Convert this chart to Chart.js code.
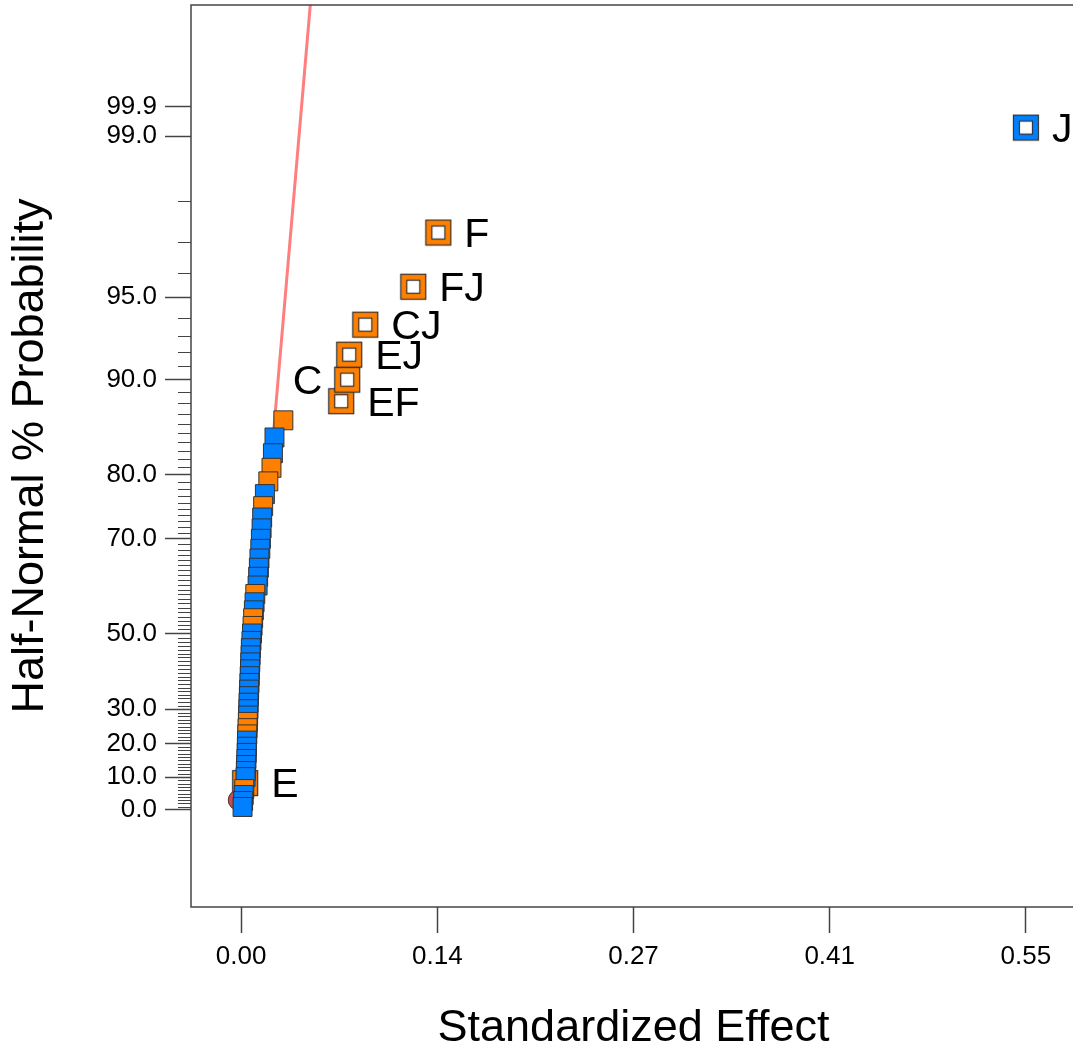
<!DOCTYPE html>
<html>
<head>
<meta charset="utf-8">
<title>Half-Normal Plot</title>
<script src="https://cdn.jsdelivr.net/npm/chart.js@4.4.1/dist/chart.umd.min.js"></script>
<style>
    html, body { margin: 0; padding: 0; background: #fff; overflow: hidden; }
    #wrap { width: 1073px; height: 1051px; overflow: hidden; }
</style>
</head>
<body>
<div id="wrap"><canvas id="halfNormal" width="1086" height="1051"></canvas></div>
<script>
// |effect| for every term, smallest to largest
let effects = [
    0.0010, 0.0014, 0.0018, 0.0022, 0.0028, 0.0031, 0.0033, 0.0035, 0.0037, 0.0039,
    0.0040, 0.0041, 0.0043, 0.0045, 0.0047, 0.0049, 0.0051, 0.0052, 0.0054, 0.0056,
    0.0058, 0.0060, 0.0062, 0.0064, 0.0066, 0.0068, 0.0072, 0.0076, 0.0080, 0.0084,
    0.0089, 0.0094, 0.0099, 0.0115, 0.0119, 0.0124, 0.0128, 0.0134, 0.0138, 0.0143,
    0.0147, 0.0154, 0.0166, 0.0190, 0.0212, 0.0222, 0.0233, 0.0295, 0.0699, 0.0741,
    0.0755, 0.0867, 0.1202, 0.1377, 0.5480
];
// half-normal % probability of each term
let probs = [
    0.91, 2.73, 4.55, 6.36, 8.18, 10.00, 11.82, 13.64, 15.45, 17.27,
    19.09, 20.91, 22.73, 24.55, 26.36, 28.18, 30.00, 31.82, 33.64, 35.45,
    37.27, 39.09, 40.91, 42.73, 44.55, 46.36, 48.18, 50.00, 51.82, 53.64,
    55.45, 57.27, 59.09, 60.91, 62.73, 64.55, 66.36, 68.18, 70.00, 71.82,
    73.64, 75.45, 77.27, 79.09, 80.91, 82.73, 84.55, 86.36, 88.18, 90.00,
    91.82, 93.64, 95.45, 97.27, 99.09
];
// sign of the effect: + orange, - blue
let signs = [
    '-', '-', '-', '+', '+', '-', '-', '-', '-', '-',
    '-', '-', '+', '+', '+', '-', '-', '-', '-', '-',
    '-', '-', '-', '-', '-', '-', '-', '-', '+', '+',
    '-', '-', '+', '-', '-', '-', '-', '-', '-', '-',
    '-', '+', '-', '+', '+', '-', '-', '+', '+', '+',
    '+', '+', '+', '+', '-'
];
// selected model terms
let terms = [
    '', '', '', '', 'E', '', '', '', '', '',
    '', '', '', '', '', '', '', '', '', '',
    '', '', '', '', '', '', '', '', '', '',
    '', '', '', '', '', '', '', '', '', '',
    '', '', '', '', '', '', '', '', 'EF', 'C',
    'EJ', 'CJ', 'FJ', 'F', 'J'
];

// error estimate marker
let errorX = [-0.002];
let errorProb = [3.0];

// line through the small effects
let fitX = [0, 0.0485];
let fitProb = [0, 99.8];

let xTicks = [0, 0.137, 0.274, 0.411, 0.548];
let probTicks = [0, 10, 20, 30, 50, 70, 80, 90, 95, 99, 99.28];
let probTickLabels = ['0.0', '10.0', '20.0', '30.0', '50.0', '70.0', '80.0', '90.0', '95.0', '99.0', '99.9'];

const orange = '#ff8000';
const blue = '#0080ff';
const edge = '#333333';
const axisColor = '#444444';
const fontName = '"Liberation Sans", Arial, sans-serif';

// inverse standard normal cdf (Acklam)
function normInv(p) {
    const a = [-3.969683028665376e+01, 2.209460984245205e+02, -2.759285104469687e+02, 1.383577518672690e+02, -3.066479806614716e+01, 2.506628277459239e+00];
    const b = [-5.447609879822406e+01, 1.615858368580409e+02, -1.556989798598866e+02, 6.680131188771972e+01, -1.328068155288572e+01];
    const c = [-7.784894002430293e-03, -3.223964580411365e-01, -2.400758277161838e+00, -2.549732539343734e+00, 4.374664141464968e+00, 2.938163982698783e+00];
    const d = [7.784695709041462e-03, 3.224671290700398e-01, 2.445134137142996e+00, 3.754408661907416e+00];
    let q, r;
    if (p < 0.02425) {
        q = Math.sqrt(-2 * Math.log(p));
        return (((((c[0]*q+c[1])*q+c[2])*q+c[3])*q+c[4])*q+c[5]) / ((((d[0]*q+d[1])*q+d[2])*q+d[3])*q+1);
    }
    if (p <= 1 - 0.02425) {
        q = p - 0.5; r = q * q;
        return (((((a[0]*r+a[1])*r+a[2])*r+a[3])*r+a[4])*r+a[5])*q / (((((b[0]*r+b[1])*r+b[2])*r+b[3])*r+b[4])*r+1);
    }
    q = Math.sqrt(-2 * Math.log(1 - p));
    return -(((((c[0]*q+c[1])*q+c[2])*q+c[3])*q+c[4])*q+c[5]) / ((((d[0]*q+d[1])*q+d[2])*q+d[3])*q+1);
}

// % probability -> position on the half-normal axis
function hn(pct) {
    return pct <= 0 ? 0 : normInv(0.5 + pct / 200);
}

function hollowSquare(fill) {
    let cv = document.createElement('canvas');
    cv.width = 28; cv.height = 28;
    let g = cv.getContext('2d');
    g.fillStyle = fill;
    g.fillRect(1, 1, 26, 26);
    g.strokeStyle = edge;
    g.lineWidth = 1.2;
    g.strokeRect(1.5, 1.5, 25, 25);
    g.fillStyle = '#ffffff';
    g.fillRect(7, 7, 14, 14);
    g.strokeRect(7.5, 7.5, 13, 13);
    return cv;
}
const hollowOrange = hollowSquare(orange);
const hollowBlue = hollowSquare(blue);

// split into picked terms (hollow) and the rest (filled, largest drawn first)
let picked = [], rest = [];
effects.forEach((e, i) => {
    let pt = { x: e, y: hn(probs[i]), sign: signs[i], term: terms[i] };
    if (terms[i]) picked.push(pt); else rest.push(pt);
});
rest.reverse();

const frame = {
    id: 'frame',
    afterDraw(chart) {
        const { ctx, chartArea: a } = chart;
        ctx.save();
        ctx.strokeStyle = axisColor;
        ctx.lineWidth = 1.5;
        ctx.strokeRect(a.left, a.top, a.right - a.left, a.bottom - a.top);
        ctx.restore();
    }
};

const minorTicks = {
    id: 'minorTicks',
    afterDraw(chart) {
        const ys = chart.scales.y, ctx = chart.ctx, left = chart.chartArea.left;
        ctx.save();
        ctx.strokeStyle = axisColor;
        ctx.lineWidth = 1;
        ctx.beginPath();
        for (let p = 1; p < 99; p++) {
            if (probTicks.includes(p)) continue;
            let py = Math.round(ys.getPixelForValue(hn(p))) + 0.5;
            ctx.moveTo(left - 13, py);
            ctx.lineTo(left, py);
        }
        ctx.stroke();
        ctx.restore();
    }
};

const termLabels = {
    id: 'termLabels',
    afterDatasetsDraw(chart) {
        const ctx = chart.ctx;
        const meta = chart.getDatasetMeta(1);
        ctx.save();
        ctx.font = '41px ' + fontName;
        ctx.fillStyle = '#000';
        ctx.textBaseline = 'middle';
        meta.data.forEach((el, i) => {
            let t = picked[i].term;
            if (t === 'C') {
                ctx.textAlign = 'right';
                ctx.fillText(t, el.x - 25, el.y + 3);
            } else {
                ctx.textAlign = 'left';
                ctx.fillText(t, el.x + 26, el.y + 3);
            }
        });
        ctx.restore();
    }
};

const tickFont = { family: fontName, size: 26 };
const titleFont = { family: fontName, size: 45, lineHeight: 1 };

new Chart(document.getElementById('halfNormal').getContext('2d'), {
    type: 'scatter',
    data: {
        datasets: [
            {
                label: 'fit',
                data: fitX.map((x, i) => ({ x: x, y: hn(fitProb[i]) })),
                showLine: true,
                borderColor: '#ff7f7f',
                borderWidth: 3,
                pointRadius: 0,
                order: 4
            },
            {
                label: 'picked',
                data: picked,
                pointStyle: ctx => ctx.raw && ctx.raw.sign === '+' ? hollowOrange : hollowBlue,
                pointRadius: 13,
                order: 3
            },
            {
                label: 'error',
                data: errorX.map((x, i) => ({ x: x, y: hn(errorProb[i]) })),
                pointStyle: 'circle',
                pointRadius: 10,
                backgroundColor: '#c0504d',
                borderColor: '#5a2a2a',
                borderWidth: 1,
                order: 2
            },
            {
                label: 'effects',
                data: rest,
                pointStyle: 'rect',
                pointRadius: 13.4,
                backgroundColor: rest.map(p => p.sign === '+' ? orange : blue),
                borderColor: edge,
                borderWidth: 1,
                order: 1
            }
        ]
    },
    options: {
        responsive: false,
        animation: false,
        devicePixelRatio: 1,
        layout: { autoPadding: false, padding: { top: 5, right: 10, left: 0, bottom: 0 } },
        plugins: {
            legend: { display: false },
            tooltip: { enabled: false }
        },
        scales: {
            x: {
                type: 'linear',
                min: -0.035,
                max: 0.583,
                afterFit: s => {
                    s.height = 144;
                    s.paddingLeft = 0;
                    s.paddingRight = 0;
                },
                afterBuildTicks: s => { s.ticks = xTicks.map(v => ({ value: v })); },
                border: { display: false },
                grid: { drawOnChartArea: false, tickLength: 26, tickColor: axisColor, tickWidth: 1.5 },
                ticks: {
                    autoSkip: false,
                    maxRotation: 0,
                    padding: 8,
                    color: '#000',
                    font: tickFont,
                    callback: v => v.toFixed(2)
                },
                title: {
                    display: true,
                    text: 'Standardized Effect',
                    color: '#000',
                    font: titleFont,
                    padding: { top: 0, bottom: 0 }
                }
            },
            y: {
                type: 'linear',
                min: -0.371,
                max: 3.077,
                afterFit: s => {
                    s.width = 191;
                    s.paddingTop = 0;
                    s.paddingBottom = 0;
                },
                afterBuildTicks: s => { s.ticks = probTicks.map(p => ({ value: hn(p) })); },
                border: { display: false },
                grid: { drawOnChartArea: false, tickLength: 26, tickColor: axisColor, tickWidth: 1.5 },
                ticks: {
                    autoSkip: false,
                    padding: 8,
                    color: '#000',
                    font: tickFont,
                    callback: (v, i) => probTickLabels[i]
                },
                title: {
                    display: true,
                    text: 'Half-Normal % Probability',
                    color: '#000',
                    font: titleFont,
                    padding: { top: 8, bottom: 0 }
                }
            }
        }
    },
    plugins: [frame, minorTicks, termLabels]
});
</script>
</body>
</html>
